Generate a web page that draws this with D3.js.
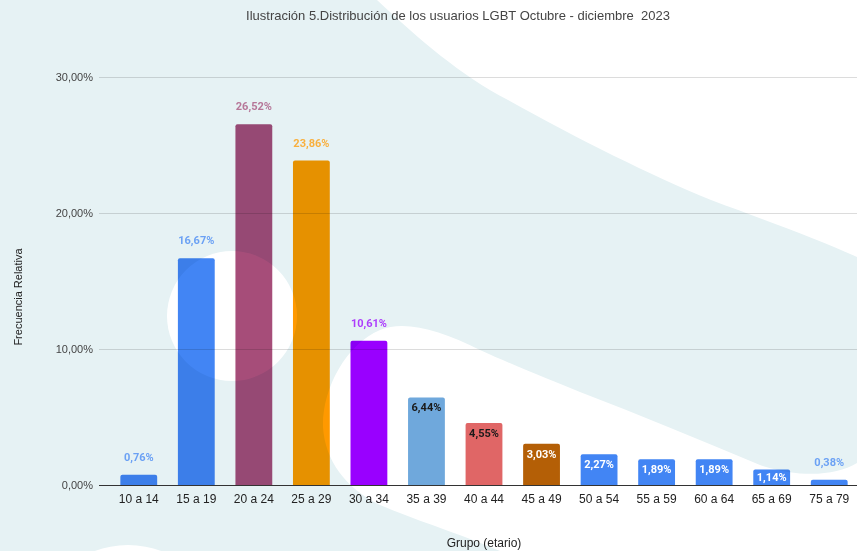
<!DOCTYPE html>
<html lang="es">
<head>
  <meta charset="UTF-8">
  <title>Distribución de los usuarios LGBT</title>
  <style>
    body {
      margin: 0;
      background: #fff;
    }
    svg {
      display: block;
      font-family: "Liberation Sans", Arial, sans-serif;
    }
    .bar {
      mix-blend-mode: multiply;
    }
    .grid line {
      mix-blend-mode: multiply;
    }
    .value-label {
      font-family: Roboto, "Noto Sans", sans-serif;
      font-weight: bold;
      font-size: 11px;
    }
  </style>
</head>
<body>
  <div id="chart"></div>

  <script src="https://cdn.jsdelivr.net/npm/d3@7"></script>
  <script>
    // Data
    const categories = ["10 a 14", "15 a 19", "20 a 24", "25 a 29", "30 a 34", "35 a 39", "40 a 44",
                        "45 a 49", "50 a 54", "55 a 59", "60 a 64", "65 a 69", "75 a 79"];
    const values = [0.76, 16.67, 26.52, 23.86, 10.61, 6.44, 4.55, 3.03, 2.27, 1.89, 1.89, 1.14, 0.38];
    const barColors = ["#4285f4", "#4285f4", "#a64d79", "#ff9900", "#9900ff", "#6fa8dc", "#e06666",
                       "#b45f06", "#4285f4", "#4285f4", "#4285f4", "#4285f4", "#4285f4"];
    const yTicks = [0, 10, 20, 30];
    // categories whose value label sits inside the bar, and the label colour there
    const insideLabels = {
      "35 a 39": "#1a1a1a", "40 a 44": "#1a1a1a", "45 a 49": "#ffffff", "50 a 54": "#ffffff",
      "55 a 59": "#ffffff", "60 a 64": "#ffffff", "65 a 69": "#ffffff"
    };

    const width = 857;
    const height = 551;
    const margin = { top: 77, right: 0, bottom: 66, left: 99 };

    const fmt = v => d3.format(".2f")(v).replace(".", ",") + "%";

    const svg = d3.select("#chart").append("svg")
      .attr("width", width)
      .attr("height", height);

    // Decorative background
    const bg = svg.append("g").attr("class", "background");
    bg.append("rect").attr("width", width).attr("height", height).attr("fill", "#e6f2f4");
    // white area top right
    bg.append("path")
      .attr("fill", "#fff")
      .attr("d", "M377,0 C420,40 460,75 508,100 C580,140 650,175 711,200 C770,222 820,240 857,257 L857,0 Z");
    // white circle
    bg.append("circle").attr("cx", 232).attr("cy", 316).attr("r", 65).attr("fill", "#fff");
    // white blob lower middle
    bg.append("path")
      .attr("fill", "#fff")
      .attr("d", "M500,551 C450,530 420,522 380,505 C345,488 325,460 323,427 C322,390 345,345 380,330 " +
                 "C405,320 440,330 480,350 C520,368 550,380 580,392 C640,415 700,440 760,465 " +
                 "C800,478 835,476 857,463 L857,551 Z");
    // white shape peeking at bottom left
    bg.append("ellipse").attr("cx", 128).attr("cy", 630).attr("rx", 90).attr("ry", 85).attr("fill", "#fff");

    // Scales
    const x = d3.scaleBand()
      .domain(categories)
      .range([110, 858])
      .paddingInner(0.36)
      .paddingOuter(0.18);

    const y = d3.scaleLinear()
      .domain([0, 30])
      .range([height - margin.bottom, margin.top]);

    // Gridlines
    const grid = svg.append("g").attr("class", "grid");
    grid.selectAll("line")
      .data(yTicks.filter(t => t > 0))
      .enter()
      .append("line")
      .attr("x1", margin.left)
      .attr("x2", width)
      .attr("y1", d => Math.round(y(d)) + 0.5)
      .attr("y2", d => Math.round(y(d)) + 0.5)
      .attr("stroke", "#dcdcdc");

    // Y axis labels
    const yAxis = d3.axisLeft(y)
      .tickValues(yTicks)
      .tickFormat(fmt)
      .tickSize(0)
      .tickPadding(6);

    svg.append("g")
      .attr("transform", `translate(${margin.left}, 0)`)
      .call(yAxis)
      .call(g => g.select(".domain").remove())
      .selectAll("text")
      .attr("font-family", "'Liberation Sans', Arial, sans-serif")
      .attr("font-size", 11)
      .attr("fill", "#444");

    // Bars with slightly rounded top corners
    const r = 2;
    function barPath(d, i) {
      const x0 = x(categories[i]);
      const w = x.bandwidth();
      const y0 = y(d);
      const yb = y(0);
      return `M${x0},${yb} L${x0},${y0 + r} Q${x0},${y0} ${x0 + r},${y0} L${x0 + w - r},${y0} ` +
             `Q${x0 + w},${y0} ${x0 + w},${y0 + r} L${x0 + w},${yb} Z`;
    }

    svg.append("g")
      .selectAll("path")
      .data(values)
      .enter()
      .append("path")
      .attr("class", "bar")
      .attr("d", barPath)
      .attr("fill", (d, i) => barColors[i]);

    // Baseline
    svg.append("line")
      .attr("x1", margin.left)
      .attr("x2", width)
      .attr("y1", y(0) + 0.5)
      .attr("y2", y(0) + 0.5)
      .attr("stroke", "#333");

    // X axis labels
    const xAxis = d3.axisBottom(x).tickSize(0).tickPadding(9);
    svg.append("g")
      .attr("transform", `translate(0, ${y(0)})`)
      .call(xAxis)
      .call(g => g.select(".domain").remove())
      .selectAll("text")
      .attr("font-family", "'Liberation Sans', Arial, sans-serif")
      .attr("font-size", 12)
      .attr("fill", "#222");

    // Value labels
    svg.append("g")
      .selectAll("text")
      .data(values)
      .enter()
      .append("text")
      .attr("class", "value-label")
      .attr("text-anchor", "middle")
      .attr("x", (d, i) => x(categories[i]) + x.bandwidth() / 2)
      .attr("y", (d, i) => {
        const top = y(d);
        if (insideLabels[categories[i]]) return Math.min(top + 14, y(0) - 4);
        return top - 14;
      })
      .attr("fill", (d, i) => insideLabels[categories[i]] || barColors[i])
      .attr("fill-opacity", (d, i) => insideLabels[categories[i]] ? 1 : 0.75)
      .text(fmt);

    // Title
    svg.append("text")
      .attr("x", 458)
      .attr("y", 20)
      .attr("text-anchor", "middle")
      .attr("font-size", 13)
      .attr("fill", "#444")
      .style("white-space", "pre")
      .text("Ilustración 5.Distribución de los usuarios LGBT Octubre - diciembre  2023");

    // Axis titles
    svg.append("text")
      .attr("transform", "translate(22, 297) rotate(-90)")
      .attr("text-anchor", "middle")
      .attr("font-size", 11)
      .attr("fill", "#222")
      .text("Frecuencia Relativa");

    svg.append("text")
      .attr("x", 484)
      .attr("y", 547)
      .attr("text-anchor", "middle")
      .attr("font-size", 12)
      .attr("fill", "#222")
      .text("Grupo (etario)");
  </script>
</body>
</html>
